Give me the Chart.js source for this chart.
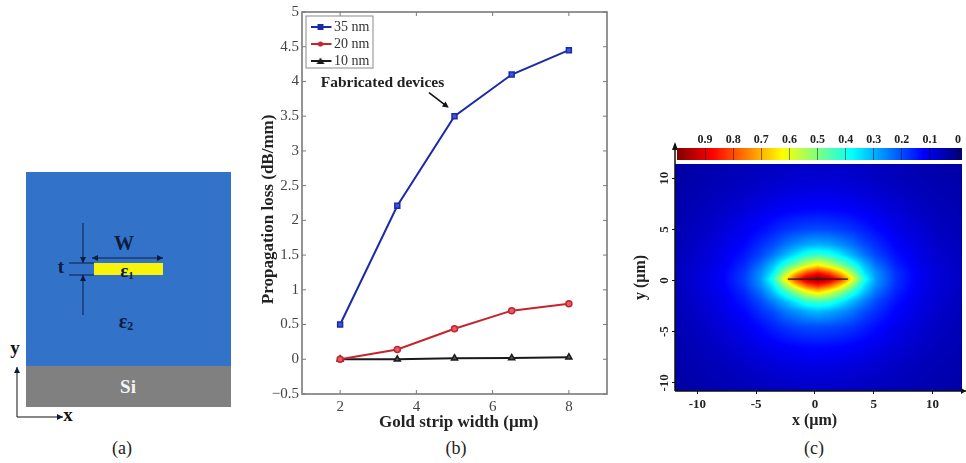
<!DOCTYPE html>
<html>
<head>
<meta charset="utf-8">
<script src="https://cdn.jsdelivr.net/npm/chart.js@4"></script>
<style>
  html, body { margin: 0; background: #fff; }
  body { position: relative; width: 966px; height: 463px; overflow: hidden; font-family: "Liberation Serif", serif; }
  canvas, svg { position: absolute; }
  .cap { position: absolute; top: 437px; font-size: 18px; color: #222; width: 60px; text-align: center; line-height: 22px; }
</style>
</head>
<body>

<!-- (a) layer sketch -->
<svg id="sketch" style="left:0;top:0" width="250" height="437" font-family="Liberation Serif, serif">
  <defs>
    <marker id="tip" markerWidth="7" markerHeight="7" refX="6" refY="3" orient="auto-start-reverse">
      <path d="M0,0 L6,3 L0,6 Z" fill="#0c1c3c"/>
    </marker>
  </defs>
  <rect x="26" y="172" width="205" height="194" fill="#3273c9"/>
  <rect x="26" y="366" width="205" height="41" fill="#808080"/>
  <rect x="94" y="263" width="69" height="12" fill="#f7f40a"/>
  <g stroke="#0c1c3c" stroke-width="1" fill="none">
    <line x1="69" y1="263" x2="94" y2="263"/>
    <line x1="69" y1="275" x2="94" y2="275"/>
    <line x1="83" y1="223" x2="83" y2="263" marker-end="url(#tip)"/>
    <line x1="83" y1="315" x2="83" y2="275" marker-end="url(#tip)"/>
    <line x1="92" y1="258" x2="163" y2="258" marker-start="url(#tip)" marker-end="url(#tip)"/>
  </g>
  <g stroke="#111" stroke-width="1" fill="none">
    <line x1="17" y1="417" x2="17" y2="367" marker-end="url(#tip)"/>
    <line x1="17" y1="417" x2="63" y2="417" marker-end="url(#tip)"/>
  </g>
  <g font-weight="bold" text-anchor="middle" fill="#0c1c3c">
    <text x="124" y="250" font-size="20">W</text>
    <text x="61" y="273" font-size="19">t</text>
    <text x="127" y="277" font-size="19">ε<tspan font-size="11" dy="2">1</tspan></text>
    <text x="126" y="328" font-size="20">ε<tspan font-size="12" dy="2">2</tspan></text>
    <text x="15" y="354" font-size="19" fill="#111">y</text>
    <text x="68" y="421" font-size="19" fill="#111">x</text>
    <text x="128" y="393" font-size="19" fill="#f4f4f4">Si</text>
  </g>
</svg>

<canvas id="lossChart" style="left:258px;top:0" width="362" height="437"></canvas>
<canvas id="fieldChart" style="left:631px;top:130px" width="335" height="307"></canvas>
<canvas id="barChart" style="left:660px;top:125px" width="306" height="40"></canvas>

<div class="cap" style="left:92px">(a)</div>
<div class="cap" style="left:426px">(b)</div>
<div class="cap" style="left:784px">(c)</div>

<script>
const FONT = '"Liberation Serif", serif';

// (b) propagation loss
const stripWidths = [2, 3.5, 5, 6.5, 8];
const loss35 = [0.5, 2.21, 3.5, 4.1, 4.45];
const loss20 = [0.0, 0.14, 0.44, 0.7, 0.8];
const loss10 = [0.0, 0.0, 0.015, 0.02, 0.03];
const lossXTicks = [2, 4, 6, 8];
const lossYTicks = [-0.5, 0, 0.5, 1, 1.5, 2, 2.5, 3, 3.5, 4, 4.5, 5];
const noteText = 'Fabricated devices';
const noteAt = [1.49, 3.98];
const noteArrow = [[4.33, 3.84], [4.85, 3.62]];

// (c) field map
const fieldXs = [-11.9, -10, -8, -6, -4.6, -3.6, -2.6, -1.6, -0.7, 0.25, 1.2, 2.2, 3.2, 4.2, 5.2, 6.9, 8.9, 10.4, 12.5];
const fieldYs = [11.4, 9, 7, 5, 3.5, 2.5, 1.5, 0.8, 0.15, -0.5, -1, -2, -3, -4.5, -6.5, -8.5, -10.8];
const fieldRows = [
  [.035,.042,.048,.053,.057,.06,.062,.065,.066,.066,.066,.065,.062,.06,.057,.053,.047,.043,.038],
  [.04,.048,.056,.066,.075,.082,.086,.09,.092,.093,.092,.09,.086,.082,.075,.065,.055,.049,.043],
  [.045,.054,.069,.086,.1,.109,.117,.122,.126,.128,.126,.122,.117,.109,.1,.085,.066,.057,.049],
  [.05,.062,.084,.109,.132,.152,.17,.184,.193,.196,.193,.184,.17,.152,.132,.105,.082,.065,.053],
  [.053,.07,.096,.128,.168,.196,.235,.265,.29,.30,.29,.265,.235,.196,.168,.122,.093,.073,.057],
  [.054,.075,.101,.145,.192,.24,.295,.355,.41,.43,.41,.355,.295,.24,.192,.138,.098,.078,.06],
  [.056,.08,.109,.164,.235,.31,.41,.50,.58,.64,.58,.50,.41,.31,.235,.155,.105,.084,.062],
  [.057,.082,.115,.18,.265,.35,.52,.67,.79,.85,.79,.67,.52,.35,.265,.17,.11,.086,.064],
  [.057,.084,.116,.184,.275,.40,.62,.83,.95,1,.95,.83,.62,.40,.275,.172,.11,.088,.065],
  [.057,.082,.114,.178,.262,.35,.51,.66,.78,.84,.78,.66,.51,.35,.262,.168,.108,.086,.064],
  [.056,.08,.11,.166,.24,.32,.43,.54,.63,.69,.63,.54,.43,.32,.24,.158,.106,.084,.062],
  [.054,.076,.103,.147,.198,.25,.305,.37,.43,.45,.43,.37,.305,.25,.198,.14,.1,.079,.06],
  [.053,.071,.097,.13,.17,.2,.24,.27,.295,.31,.295,.27,.24,.2,.17,.124,.094,.074,.057],
  [.05,.063,.085,.11,.135,.155,.175,.19,.198,.2,.198,.19,.175,.155,.135,.107,.083,.066,.053],
  [.046,.055,.07,.088,.103,.112,.12,.126,.13,.132,.13,.126,.12,.112,.103,.087,.068,.058,.05],
  [.041,.049,.057,.067,.076,.083,.087,.091,.093,.094,.093,.091,.087,.083,.076,.066,.056,.05,.044],
  [.036,.043,.049,.054,.058,.061,.063,.066,.067,.067,.067,.066,.063,.061,.058,.054,.048,.044,.039]
];
const stripXs = [-2.3, 2.8];
const stripYs = [0.15, 0.15];
const fieldXTicks = [-10, -5, 0, 5, 10];
const fieldYTicks = [-10, -5, 0, 5, 10];
const barTicks = [0.9, 0.8, 0.7, 0.6, 0.5, 0.4, 0.3, 0.2, 0.1, 0];

function jet(v) {
  const ramp = (c) => Math.max(0, Math.min(1, 1.5 - Math.abs(4 * v - c)));
  return [ramp(3) * 255, ramp(2) * 255, ramp(1) * 255];
}

function fixedTicks(list) {
  return function (scale) { scale.ticks = list.map(v => ({ value: v })); };
}

// small canvas with line + marker, used as legend symbol
function legendSymbol(color, fill, style) {
  const c = document.createElement('canvas');
  c.width = 24; c.height = 10;
  const g = c.getContext('2d');
  g.strokeStyle = color; g.lineWidth = 2;
  g.beginPath(); g.moveTo(1, 5); g.lineTo(23, 5); g.stroke();
  g.fillStyle = color;
  g.beginPath();
  if (style === 'rect') g.rect(9, 2, 6, 6);
  else if (style === 'circle') g.arc(12, 5, 2.6, 0, Math.PI * 2);
  else { g.moveTo(12, 1.5); g.lineTo(16, 8); g.lineTo(8, 8); g.closePath(); }
  g.fill();
  return c;
}

const lossFrame = {
  id: 'lossFrame',
  beforeDraw(chart) {
    // legend sits inside the frame, under the top left corner
    chart.legend.left = 53;
    chart.legend.top = 17;
  },
  afterDraw(chart) {
    const { ctx, chartArea: a, scales: { x, y } } = chart;
    ctx.save();
    ctx.strokeStyle = '#7a7a7a';
    ctx.lineWidth = 1;
    x.ticks.forEach(t => {
      const px = x.getPixelForValue(t.value);
      ctx.beginPath();
      ctx.moveTo(px, a.bottom); ctx.lineTo(px, a.bottom - 4);
      ctx.moveTo(px, a.top); ctx.lineTo(px, a.top + 4);
      ctx.stroke();
    });
    y.ticks.forEach(t => {
      const py = y.getPixelForValue(t.value);
      ctx.beginPath();
      ctx.moveTo(a.left, py); ctx.lineTo(a.left + 4, py);
      ctx.moveTo(a.right, py); ctx.lineTo(a.right - 4, py);
      ctx.stroke();
    });
    ctx.lineWidth = 1.6;
    ctx.strokeRect(a.left, a.top, a.right - a.left, a.bottom - a.top);

    // box round the legend
    ctx.strokeStyle = '#8a8a8a';
    ctx.lineWidth = 1;
    ctx.strokeRect(a.left + 4, a.top + 4, 67, 52);

    // note + arrow
    ctx.fillStyle = '#222';
    ctx.font = 'bold 15.5px ' + FONT;
    ctx.textBaseline = 'middle';
    ctx.fillText(noteText, x.getPixelForValue(noteAt[0]), y.getPixelForValue(noteAt[1]));
    const p0 = [x.getPixelForValue(noteArrow[0][0]), y.getPixelForValue(noteArrow[0][1])];
    const p1 = [x.getPixelForValue(noteArrow[1][0]), y.getPixelForValue(noteArrow[1][1])];
    const ang = Math.atan2(p1[1] - p0[1], p1[0] - p0[0]);
    ctx.strokeStyle = '#111';
    ctx.fillStyle = '#111';
    ctx.lineWidth = 1.6;
    ctx.beginPath(); ctx.moveTo(p0[0], p0[1]); ctx.lineTo(p1[0] - 4 * Math.cos(ang), p1[1] - 4 * Math.sin(ang)); ctx.stroke();
    ctx.beginPath();
    ctx.moveTo(p1[0], p1[1]);
    ctx.lineTo(p1[0] - 7 * Math.cos(ang - 0.45), p1[1] - 7 * Math.sin(ang - 0.45));
    ctx.lineTo(p1[0] - 7 * Math.cos(ang + 0.45), p1[1] - 7 * Math.sin(ang + 0.45));
    ctx.closePath(); ctx.fill();
    ctx.restore();
  }
};

function series(label, values, color, fill, style, radius) {
  return {
    label: label,
    data: stripWidths.map((w, i) => ({ x: w, y: values[i] })),
    borderColor: color,
    borderWidth: 2,
    pointStyle: style,
    pointRadius: radius,
    pointBorderColor: color,
    pointBackgroundColor: fill,
    pointBorderWidth: 1.5,
    tension: 0,
    symbol: legendSymbol(color, fill, style)
  };
}

new Chart(document.getElementById('lossChart'), {
  type: 'line',
  data: {
    datasets: [
      series('35 nm', loss35, '#1b2aa8', '#3d55dd', 'rect', 3.5),
      series('20 nm', loss20, '#c6242c', '#e0606a', 'circle', 3),
      series('10 nm', loss10, '#1a1a1a', '#555', 'triangle', 3.5)
    ]
  },
  options: {
    responsive: false,
    animation: false,
    layout: { padding: { top: 12, right: 13 } },
    plugins: {
      tooltip: { enabled: false },
      legend: {
        position: 'chartArea',
        align: 'start',
        labels: {
          usePointStyle: true,
          pointStyleWidth: 13,
          padding: 3,
          color: '#333',
          font: { family: FONT, size: 14 },
          generateLabels(chart) {
            return chart.data.datasets.map((d, i) => ({
              text: d.label, pointStyle: d.symbol, datasetIndex: i, fontColor: '#333', lineWidth: 0
            }));
          }
        }
      }
    },
    scales: {
      x: {
        type: 'linear', min: 1, max: 9,
        afterBuildTicks: fixedTicks(lossXTicks),
        afterFit(s) { s.height = 43; },
        grid: { display: false, drawTicks: false },
        border: { display: false },
        ticks: { color: '#444', padding: 4, font: { family: FONT, size: 15 } },
        // leading spaces: the reference title sits a bit right of the plot centre
        title: { display: true, text: '  Gold strip width (µm)', color: '#222', padding: { top: 0, bottom: 4 }, font: { family: FONT, size: 17, weight: 'bold' } }
      },
      y: {
        min: -0.5, max: 5,
        afterBuildTicks: fixedTicks(lossYTicks),
        afterFit(s) { s.width = 44; },
        grid: { display: false, drawTicks: false },
        border: { display: false },
        ticks: {
          color: '#444', padding: 3, font: { family: FONT, size: 15 },
          callback: v => (v < 0 ? '−' + Math.abs(v) : String(v))
        },
        title: { display: true, text: 'Propagation loss (dB/mm)   ', color: '#222', padding: 0, font: { family: FONT, size: 17, weight: 'bold' } }
      }
    }
  },
  plugins: [lossFrame]
});

// paints the grid through the chart's scales, values blended between grid nodes
const fieldPaint = {
  id: 'fieldPaint',
  beforeDraw(chart) {
    const { ctx, chartArea: a, scales: { x, y } } = chart;
    const w = Math.round(a.right - a.left), h = Math.round(a.bottom - a.top);
    const off = document.createElement('canvas');
    off.width = w; off.height = h;
    const g = off.getContext('2d');
    const img = g.createImageData(w, h);
    const find = (list, v, desc) => {
      for (let i = 0; i < list.length - 1; i++) {
        if (desc ? v >= list[i + 1] : v <= list[i + 1]) return i;
      }
      return list.length - 2;
    };
    for (let py = 0; py < h; py++) {
      const vy = y.getValueForPixel(a.top + py + 0.5);
      const r = find(fieldYs, vy, true);
      const ty = (fieldYs[r] - vy) / (fieldYs[r] - fieldYs[r + 1]);
      for (let px = 0; px < w; px++) {
        const vx = x.getValueForPixel(a.left + px + 0.5);
        const c = find(fieldXs, vx, false);
        const tx = (vx - fieldXs[c]) / (fieldXs[c + 1] - fieldXs[c]);
        const top = fieldRows[r][c] * (1 - tx) + fieldRows[r][c + 1] * tx;
        const bot = fieldRows[r + 1][c] * (1 - tx) + fieldRows[r + 1][c + 1] * tx;
        const col = jet(top * (1 - ty) + bot * ty);
        const k = (py * w + px) * 4;
        img.data[k] = col[0]; img.data[k + 1] = col[1]; img.data[k + 2] = col[2]; img.data[k + 3] = 255;
      }
    }
    g.putImageData(img, 0, 0);
    ctx.drawImage(off, a.left, a.top);
  },
  afterDraw(chart) {
    // axis arrows
    const { ctx, chartArea: a } = chart;
    ctx.save();
    ctx.strokeStyle = '#111'; ctx.fillStyle = '#111'; ctx.lineWidth = 1.5;
    ctx.beginPath();
    ctx.moveTo(a.left, a.bottom); ctx.lineTo(a.left, 14);
    ctx.moveTo(a.left, a.bottom); ctx.lineTo(chart.width, a.bottom);
    ctx.stroke();
    ctx.beginPath();
    ctx.moveTo(a.left, 12); ctx.lineTo(a.left - 3, 20); ctx.lineTo(a.left + 3, 20); ctx.closePath();
    ctx.moveTo(chart.width, a.bottom); ctx.lineTo(chart.width - 5, a.bottom - 3); ctx.lineTo(chart.width - 5, a.bottom + 3); ctx.closePath();
    ctx.fill();
    ctx.restore();
  }
};

new Chart(document.getElementById('fieldChart'), {
  type: 'line',
  data: {
    datasets: [{
      label: 'strip',
      data: stripXs.map((v, i) => ({ x: v, y: stripYs[i] })),
      borderColor: '#222',
      borderWidth: 1.2,
      pointRadius: 0
    }]
  },
  options: {
    responsive: false,
    animation: false,
    layout: { padding: { top: 34, right: 4 } },
    plugins: { legend: { display: false }, tooltip: { enabled: false } },
    scales: {
      x: {
        type: 'linear', min: -11.9, max: 12.5,
        afterBuildTicks: fixedTicks(fieldXTicks),
        afterFit(s) { s.height = 46; },
        grid: { drawOnChartArea: false, tickLength: 3, color: '#111' },
        border: { display: false },
        ticks: { color: '#222', padding: 3, font: { family: FONT, size: 13, weight: 'bold' } },
        title: { display: true, text: 'x (µm)  ', color: '#222', padding: { top: 0, bottom: 7 }, font: { family: FONT, size: 16, weight: 'bold' } }
      },
      y: {
        min: -10.8, max: 11.4,
        afterBuildTicks: fixedTicks(fieldYTicks),
        afterFit(s) { s.width = 44; },
        grid: { drawOnChartArea: false, tickLength: 3, color: '#111' },
        border: { display: false },
        ticks: { color: '#222', padding: -1, crossAlign: 'center', minRotation: 90, maxRotation: 90, font: { family: FONT, size: 13, weight: 'bold' } },
        title: { display: true, text: 'y (µm)', color: '#222', padding: 0, font: { family: FONT, size: 16, weight: 'bold' } }
      }
    }
  },
  plugins: [fieldPaint]
});

// colour bar on top of the map
const barPaint = {
  id: 'barPaint',
  beforeDraw(chart) {
    const { ctx, chartArea: a, scales: { x } } = chart;
    for (let px = Math.round(a.left); px < Math.round(a.right); px++) {
      const c = jet(Math.max(0, x.getValueForPixel(px + 0.5)));
      ctx.fillStyle = 'rgb(' + c[0] + ',' + c[1] + ',' + c[2] + ')';
      ctx.fillRect(px, a.top, 1, a.bottom - a.top);
    }
  }
};

new Chart(document.getElementById('barChart'), {
  type: 'line',
  data: { datasets: [] },
  options: {
    responsive: false,
    animation: false,
    layout: { padding: { left: 17, right: 4, bottom: 5 } },
    plugins: { legend: { display: false }, tooltip: { enabled: false } },
    scales: {
      x: {
        type: 'linear', position: 'top', reverse: true, min: -0.014, max: 1,
        afterBuildTicks: fixedTicks(barTicks),
        afterFit(s) { s.height = 23; },
        grid: { color: 'rgba(0,0,0,0.45)', drawTicks: false },
        border: { display: false },
        ticks: { color: '#222', padding: 1, maxRotation: 0, font: { family: FONT, size: 12, weight: 'bold' } }
      },
      y: { display: false, min: 0, max: 1 }
    }
  },
  plugins: [barPaint]
});
</script>
</body>
</html>
